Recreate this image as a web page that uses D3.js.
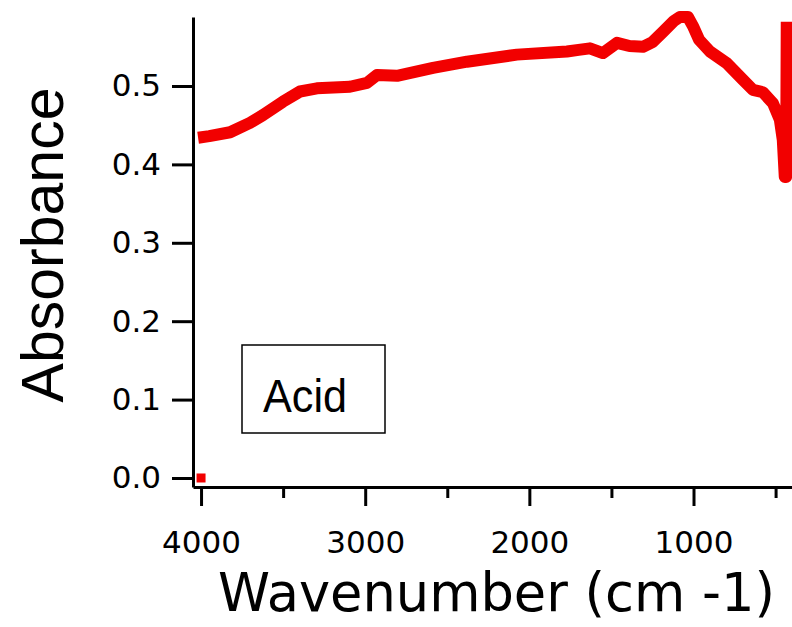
<!DOCTYPE html>
<html>
<head>
<meta charset="utf-8">
<script src="https://d3js.org/d3.v7.min.js"></script>
<style>
  body { margin: 0; background: #fff; }
  svg { display: block; }
</style>
</head>
<body>
<script>
    // spectrum: wavenumber (cm-1) and absorbance
    let wavenumber = [4018, 3950, 3823, 3702, 3622, 3501, 3397, 3294, 3093, 2989, 2928, 2806,
        2587, 2380, 2076, 1771, 1700, 1631, 1552, 1466, 1390, 1308, 1250, 1186, 1120, 1083,
        1034, 1000, 966, 900, 797, 699, 638, 577, 516, 474, 456, 444, 436, 432];
    let absorbance = [0.434, 0.436, 0.441, 0.453, 0.463, 0.480, 0.493, 0.497, 0.499, 0.504, 0.514, 0.513,
        0.523, 0.531, 0.540, 0.544, 0.546, 0.548, 0.542, 0.555, 0.551, 0.550, 0.556, 0.569, 0.583, 0.588,
        0.588, 0.575, 0.559, 0.544, 0.529, 0.508, 0.495, 0.492, 0.478, 0.457, 0.431, 0.384, 0.384, 0.582];
    let marker = [{wn: 4000, a: 0}];

    let xMajor = [4000, 3000, 2000, 1000];
    let xMinor = [3500, 2500, 1500, 500];
    let yTicks = [0.0, 0.1, 0.2, 0.3, 0.4, 0.5];
    let legendLabel = "Acid";

    let w = 792, h = 627;
    let svg = d3.select('body').append('svg')
        .attr('width', w)
        .attr('height', h);

    let x_scale = d3.scaleLinear()
        .domain([4049, 400])
        .range([193, 792]);
    let y_scale = d3.scaleLinear()
        .domain([-0.0115, 0.588])
        .range([487, 17]);

    let tickFont = "'DejaVu Sans', sans-serif";

    // y axis
    svg.append('g')
        .attr('transform', 'translate(193,0)')
        .call(d3.axisLeft(y_scale).tickValues(yTicks).tickFormat(d3.format('.1f'))
            .tickSize(21).tickSizeOuter(0).tickPadding(11));

    // x axis, major ticks with labels
    svg.append('g')
        .attr('transform', 'translate(0,487)')
        .call(d3.axisBottom(x_scale).tickValues(xMajor).tickFormat(d3.format('d'))
            .tickSize(19).tickSizeOuter(0).tickPadding(25));

    // minor ticks, no labels
    let xMinorAxis = svg.append('g')
        .attr('transform', 'translate(0,487)')
        .call(d3.axisBottom(x_scale).tickValues(xMinor).tickFormat('')
            .tickSize(11).tickSizeOuter(0));
    xMinorAxis.select('.domain').remove();

    svg.selectAll('.domain, .tick line')
        .attr('stroke', '#000')
        .attr('stroke-width', 3);
    svg.selectAll('.tick text')
        .attr('fill', '#000')
        .style('font-family', tickFont)
        .style('font-size', '31px');

    // spectrum
    let pts = wavenumber.map((d, i) => [d, absorbance[i]]);
    let line = d3.line()
        .x(d => x_scale(d[0]))
        .y(d => y_scale(d[1]));

    svg.append('path')
        .datum(pts)
        .attr('d', line)
        .attr('fill', 'none')
        .attr('stroke', '#f20000')
        .attr('stroke-width', 12)
        .attr('stroke-linejoin', 'round');

    svg.selectAll('rect.marker')
        .data(marker)
        .join('rect')
            .attr('class', 'marker')
            .attr('x', d => x_scale(d.wn) - 4.5)
            .attr('y', d => y_scale(d.a) - 4.5)
            .attr('width', 9)
            .attr('height', 9)
            .attr('fill', '#f20000');

    // legend box
    svg.append('rect')
        .attr('x', 242).attr('y', 345)
        .attr('width', 143).attr('height', 88)
        .attr('fill', '#fff')
        .attr('stroke', '#000')
        .attr('stroke-width', 1.5);
    svg.append('text')
        .attr('x', 263).attr('y', 412)
        .attr('textLength', 84)
        .attr('lengthAdjust', 'spacingAndGlyphs')
        .style('font-family', "'Liberation Sans', Arial, sans-serif")
        .style('font-size', '46px')
        .text(legendLabel);

    // axis titles
    svg.append('text')
        .attr('transform', 'translate(63,245) rotate(-90)')
        .attr('text-anchor', 'middle')
        .style('font-family', "'Liberation Sans', Arial, sans-serif")
        .style('font-size', '59px')
        .text('Absorbance');

    svg.append('text')
        .attr('x', 218).attr('y', 611)
        .attr('textLength', 557)
        .attr('lengthAdjust', 'spacingAndGlyphs')
        .style('font-family', tickFont)
        .style('font-size', '54px')
        .text('Wavenumber (cm -1)');
</script>
</body>
</html>
